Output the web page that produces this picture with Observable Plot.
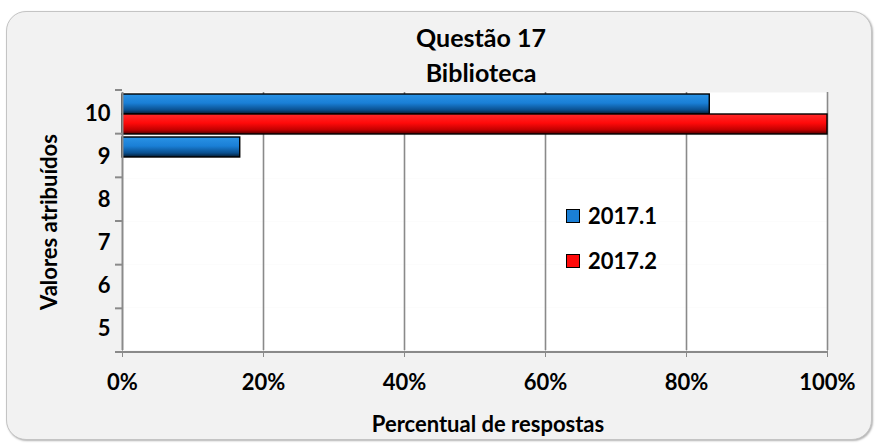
<!DOCTYPE html>
<html><head><meta charset="utf-8">
<script src="https://cdn.jsdelivr.net/npm/d3@7"></script>
<script src="https://cdn.jsdelivr.net/npm/@observablehq/plot@0.6"></script>
<style>
body{margin:0;background:#fff;}
#wrap{position:relative;width:878px;height:444px;overflow:hidden;font-family:Lato,"Open Sans",sans-serif;font-weight:bold;color:#000;}
#frame{position:absolute;left:6px;top:11px;width:864px;height:427px;background:#f2f2f2;border:1px solid #c4c4c4;border-radius:20px;box-shadow:1px 1px 2px rgba(0,0,0,.3);}
.c{position:absolute;transform:translate(-50%,-50%);white-space:nowrap;}
#chart{position:absolute;left:0;top:0;}
#chart svg text{fill:#000;}
.lg{position:absolute;display:flex;align-items:center;font-size:22px;}
.sw{width:12px;height:12px;border:1.5px solid #000;margin-right:8px;}
</style></head>
<body>
<div id="wrap">
  <div id="frame"></div>
  <div id="chart"></div>
  <div class="c" id="t1" style="left:481px;top:37px;font-size:25px;">Questão 17</div>
  <div class="c" id="t2" style="left:481px;top:72px;font-size:25px;">Biblioteca</div>
  <div class="c" id="xl" style="left:488px;top:423px;font-size:22px;">Percentual de respostas</div>
  <div class="c" id="yl" style="left:48px;top:222px;font-size:22px;transform:translate(-50%,-50%) rotate(-90deg);">Valores atribuídos</div>
  <div id="legend"></div>
</div>
<script>
const categories = ["10","9","8","7","6","5"];
const seriesNames = ["2017.1","2017.2"];
const values2017_1 = [83.3, 16.7, 0, 0, 0, 0];
const values2017_2 = [100, 0, 0, 0, 0, 0];
const xTicks = [0, 20, 40, 60, 80, 100];
const seriesColors = ["#1a7fd6", "#ff0a0a"];

const rows = categories.flatMap((c, i) => [
  {cat: c, series: seriesNames[0], value: values2017_1[i] / 100},
  {cat: c, series: seriesNames[1], value: values2017_2[i] / 100}
]);

const chart = Plot.plot({
  width: 878, height: 444,
  marginTop: 90, marginBottom: 92, marginLeft: 122, marginRight: 51,
  style: {background: "transparent", fontFamily: "Lato, 'Open Sans', sans-serif", fontSize: "22px", fontWeight: "bold", color: "#8a8a8a", overflow: "visible"},
  facet: {data: rows, y: "cat"},
  fy: {domain: categories, padding: 0, axis: "left", label: null, tickSize: 0, tickPadding: 12},
  y: {domain: seriesNames, axis: null, paddingInner: 0, paddingOuter: 0.06},
  x: {domain: [0, 1], ticks: xTicks.map(d => d / 100), tickFormat: d => Math.round(d * 100) + "%", label: null, tickSize: 7, tickPadding: 17},
  marks: [
    Plot.frame({fill: "white", stroke: "none"}),
    Plot.ruleX(xTicks.slice(1).map(d => d / 100), {stroke: "#8a8a8a", strokeWidth: 1.6}),
    Plot.barX(rows, {filter: d => d.series === seriesNames[0] && d.value > 0, x: "value", y: "series", fill: "url(#g0)", stroke: "#000", strokeWidth: 1.4}),
    Plot.barX(rows, {filter: d => d.series === seriesNames[1] && d.value > 0, x: "value", y: "series", fill: "url(#g1)", stroke: "#000", strokeWidth: 1.4}),
    Plot.ruleX([0], {stroke: "#8a8a8a", strokeWidth: 2})
  ]
});
document.getElementById("chart").appendChild(chart);

const svg = d3.select(chart);
const defs = svg.insert("defs", ":first-child");
const grads = [
  ["#2a93e6", "#1a7fd6", "#0a4f8e", "#041a30"],
  ["#ff2a2a", "#ff0a0a", "#c00000", "#500000"]
];
grads.forEach((stops, i) => {
  const g = defs.append("linearGradient").attr("id", "g" + i).attr("x1", 0).attr("y1", 0).attr("x2", 0).attr("y2", 1);
  [0, 0.45, 0.8, 1].forEach((o, j) => g.append("stop").attr("offset", o).attr("stop-color", stops[j]));
});

// axis lines & category ticks between bands, from the library's scales
const fy = chart.scale("fy");
const xs = chart.scale("x");
const [y0, y1] = fy.range;
const step = (y1 - y0) / categories.length;
const gx = svg.append("g").attr("stroke", "#8a8a8a").attr("stroke-width", 2);
gx.append("line").attr("x1", xs.range[0]).attr("x2", xs.range[1]).attr("y1", y1).attr("y2", y1);
for (let i = 0; i <= categories.length; i++) {
  gx.append("line").attr("x1", xs.range[0] - 7).attr("x2", xs.range[0]).attr("y1", y0 + i * step).attr("y2", y0 + i * step);
}

// legend
const legend = d3.select("#legend");
seriesNames.forEach((s, i) => {
  const it = legend.append("div").attr("class", "lg").style("left", "566px").style("top", (202 + i * 45) + "px");
  it.append("div").attr("class", "sw").style("background", seriesColors[i]);
  it.append("span").text(s);
});
</script>
</body></html>
